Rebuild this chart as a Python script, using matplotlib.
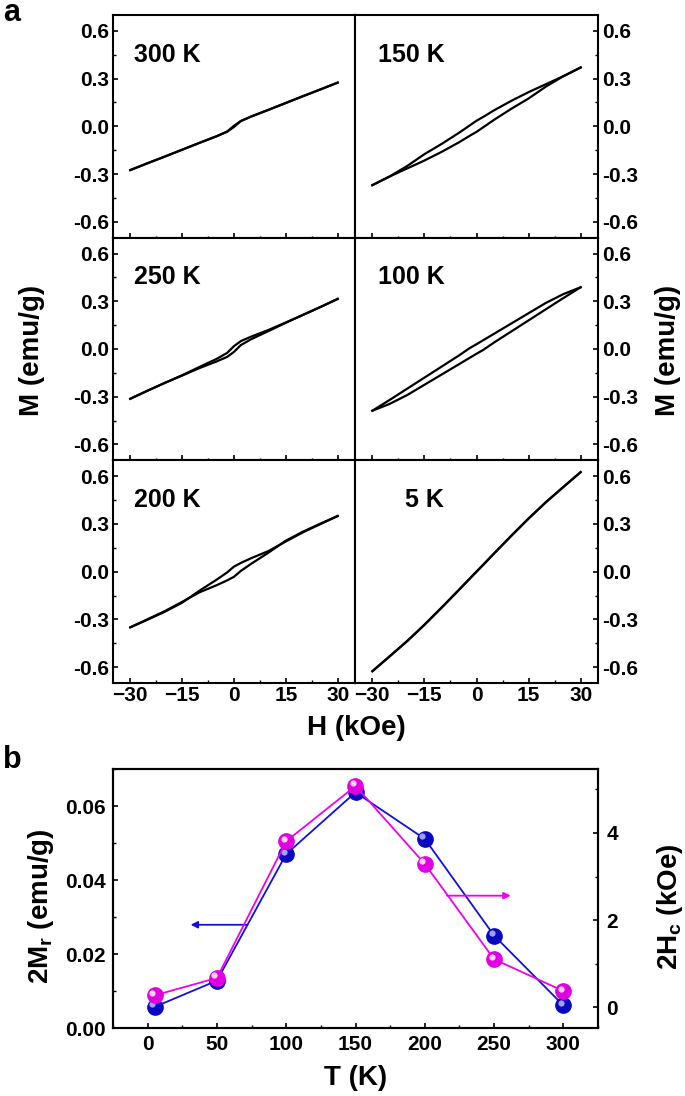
import matplotlib
matplotlib.use("Agg")
import matplotlib.pyplot as plt
from matplotlib.ticker import MultipleLocator, FormatStrFormatter
from matplotlib.transforms import offset_copy

plt.rcParams["font.family"] = ["Liberation Sans", "DejaVu Sans"]
plt.rcParams["font.weight"] = "bold"
plt.rcParams["axes.labelweight"] = "bold"
plt.rcParams["mathtext.fontset"] = "custom"
plt.rcParams["mathtext.rm"] = "Liberation Sans:bold"
plt.rcParams["mathtext.default"] = "rm"

# ---- panel a: M-H loops, field grid in kOe ----
H = [-30, -25, -20, -15, -10, -5, -2, 0, 2, 5, 10, 15, 20, 25, 30]

m300_up = [-0.275, -0.232, -0.19, -0.147, -0.104, -0.062, -0.033, 0.004, 0.034, 0.062, 0.104, 0.147, 0.19, 0.232, 0.275]
m300_dn = [-0.275, -0.232, -0.19, -0.147, -0.104, -0.062, -0.034, -0.004, 0.033, 0.062, 0.104, 0.147, 0.19, 0.232, 0.275]

m250_up = [-0.313, -0.262, -0.213, -0.165, -0.113, -0.062, -0.025, 0.018, 0.050, 0.078, 0.120, 0.167, 0.215, 0.264, 0.315]
m250_dn = [-0.313, -0.262, -0.213, -0.167, -0.120, -0.078, -0.050, -0.018, 0.025, 0.062, 0.113, 0.165, 0.215, 0.264, 0.315]

m200_up = [-0.350, -0.302, -0.252, -0.195, -0.120, -0.050, -0.005, 0.032, 0.055, 0.085, 0.130, 0.190, 0.248, 0.299, 0.350]
m200_dn = [-0.350, -0.299, -0.248, -0.190, -0.130, -0.085, -0.055, -0.032, 0.005, 0.050, 0.120, 0.195, 0.252, 0.302, 0.350]

m150_up = [-0.370, -0.315, -0.250, -0.175, -0.110, -0.040, 0.005, 0.035, 0.060, 0.100, 0.160, 0.215, 0.265, 0.315, 0.370]
m150_dn = [-0.370, -0.315, -0.265, -0.215, -0.160, -0.100, -0.060, -0.035, -0.005, 0.040, 0.110, 0.175, 0.250, 0.315, 0.370]

m100_up = [-0.388, -0.320, -0.250, -0.180, -0.110, -0.040, 0.005, 0.030, 0.056, 0.095, 0.160, 0.225, 0.290, 0.345, 0.388]
m100_dn = [-0.388, -0.345, -0.290, -0.225, -0.160, -0.095, -0.056, -0.030, -0.005, 0.040, 0.110, 0.180, 0.250, 0.320, 0.388]

m5 = [-0.626, -0.532, -0.437, -0.334, -0.225, -0.113, -0.045, 0.0, 0.045, 0.113, 0.225, 0.334, 0.437, 0.532, 0.626]

# ---- panel b ----
T = [5, 50, 100, 150, 200, 250, 300]
two_Mr = [0.0057, 0.0128, 0.047, 0.0637, 0.0511, 0.025, 0.0061]
two_Hc = [0.27, 0.67, 3.81, 5.08, 3.29, 1.10, 0.37]

W, Hpx = 685, 1096
fig = plt.figure(figsize=(6.85, 10.96), dpi=100)

left_px, mid_px, right_px = 113, 355, 598
top_px, bot_px = 15, 683
row_h = (bot_px - top_px) / 3

panels = [
    [("300 K", m300_up, m300_dn), ("150 K", m150_up, m150_dn)],
    [("250 K", m250_up, m250_dn), ("100 K", m100_up, m100_dn)],
    [("200 K", m200_up, m200_dn), ("5 K", m5, m5)],
]
label_x = [[-29, -28.3], [-29, -28.3], [-29, -20.5]]

for r in range(3):
    for c in range(2):
        x0 = left_px if c == 0 else mid_px
        x1 = mid_px if c == 0 else right_px
        y_top = top_px + r * row_h
        ax = fig.add_axes([x0 / W, 1 - (y_top + row_h) / Hpx, (x1 - x0) / W, row_h / Hpx])
        name, up, dn = panels[r][c]
        ax.plot(H, up, color="black", lw=1.6)
        ax.plot(H, dn, color="black", lw=1.6)
        ax.text(label_x[r][c], 0.45, name, fontsize=18, fontweight="bold", va="center", ha="left")
        ax.set_xlim(-35, 35)
        ax.set_ylim(-0.7, 0.7)
        ax.xaxis.set_major_locator(MultipleLocator(15))
        ax.xaxis.set_minor_locator(MultipleLocator(7.5))
        ax.yaxis.set_major_locator(MultipleLocator(0.3))
        ax.yaxis.set_minor_locator(MultipleLocator(0.15))
        ax.yaxis.set_major_formatter(FormatStrFormatter("%.1f"))
        for s in ax.spines.values():
            s.set_linewidth(1.5)
        if c == 0:
            ax.tick_params(axis="y", which="both", direction="in", left=True, right=False,
                           labelleft=True, labelright=False)
        else:
            ax.tick_params(axis="y", which="both", direction="in", left=False, right=True,
                           labelleft=False, labelright=True)
        ax.tick_params(axis="y", which="major", length=3.5, width=1.2, pad=3, labelsize=15)
        ax.tick_params(axis="y", which="minor", length=2, width=1.0)
        if r < 2:
            ax.tick_params(axis="x", which="both", direction="inout", top=False, bottom=True,
                           labelbottom=False)
            ax.tick_params(axis="x", which="major", length=7, width=1.2)
            ax.tick_params(axis="x", which="minor", length=3.5, width=1.0)
        else:
            ax.tick_params(axis="x", which="both", direction="in", top=False, bottom=True)
            ax.tick_params(axis="x", which="major", length=3.5, width=1.2, pad=2, labelsize=15)
            ax.tick_params(axis="x", which="minor", length=2, width=1.0)

fig.text(12 / W, 1 - 13 / Hpx, "a", fontsize=22, fontweight="bold", ha="center", va="center")
fig.text(356 / W, 1 - 728 / Hpx, "H (kOe)", fontsize=20, fontweight="bold", ha="center", va="center")
fig.text(32 / W, 1 - 350 / Hpx, "M (emu/g)", fontsize=20, fontweight="bold", ha="center",
         va="center", rotation=90)
fig.text(668 / W, 1 - 350 / Hpx, "M (emu/g)", fontsize=20, fontweight="bold", ha="center",
         va="center", rotation=90)

# ---- panel b ----
fig.text(12 / W, 1 - 760 / Hpx, "b", fontsize=22, fontweight="bold", ha="center", va="center")
b_top, b_bot = 769, 1028
axb = fig.add_axes([left_px / W, 1 - b_bot / Hpx, (right_px - left_px) / W, (b_bot - b_top) / Hpx])
axr = axb.twinx()

blue, blue_dark, blue_light = "#1010e0", "#0808c0", "#a0a0ff"
mag, mag_dark, mag_light = "#f000f0", "#e000e0", "#ffd0ff"

axb.plot(T, two_Mr, color=blue, lw=1.3, marker="o", ms=11, mfc=blue_dark, mec=blue_dark)
hl = offset_copy(axb.transData, fig=fig, x=-1.8, y=1.8, units="points")
axb.plot(T, two_Mr, ls="none", marker="o", ms=4.5, mfc=blue_light, mec="none", transform=hl)

axr.plot(T, two_Hc, color=mag, lw=1.3, marker="o", ms=11, mfc=mag_dark, mec=mag_dark)
hl2 = offset_copy(axr.transData, fig=fig, x=-1.8, y=1.8, units="points")
axr.plot(T, two_Hc, ls="none", marker="o", ms=4.5, mfc=mag_light, mec="none", transform=hl2)

axb.annotate("", xy=(31, 0.0279), xytext=(72, 0.0279),
             arrowprops=dict(arrowstyle="-|>", color=blue, lw=1.3, mutation_scale=10,
                             shrinkA=0, shrinkB=0))
axr.annotate("", xy=(262, 2.56), xytext=(216, 2.56),
             arrowprops=dict(arrowstyle="-|>", color=mag, lw=1.3, mutation_scale=10,
                             shrinkA=0, shrinkB=0))

axb.set_xlim(-25, 325)
axb.set_ylim(0, 0.07)
axr.set_ylim(-0.48, 5.47)
axb.xaxis.set_major_locator(MultipleLocator(50))
axb.xaxis.set_minor_locator(MultipleLocator(25))
axb.yaxis.set_major_locator(MultipleLocator(0.02))
axb.yaxis.set_minor_locator(MultipleLocator(0.01))
axb.yaxis.set_major_formatter(FormatStrFormatter("%.2f"))
axr.yaxis.set_major_locator(MultipleLocator(2))
axr.yaxis.set_minor_locator(MultipleLocator(1))

for a in (axb, axr):
    for s in a.spines.values():
        s.set_linewidth(1.5)
axb.tick_params(axis="both", which="both", direction="in", top=False, right=False)
axb.tick_params(axis="both", which="major", length=3.5, width=1.2, labelsize=15, pad=5)
axb.tick_params(axis="both", which="minor", length=2, width=1.0)
axr.tick_params(axis="y", which="both", direction="in")
axr.tick_params(axis="y", which="major", length=3.5, width=1.2, labelsize=15, pad=6)
axr.tick_params(axis="y", which="minor", length=2, width=1.0)

axb.set_xlabel("T (K)", fontsize=20, fontweight="bold")
axb.set_ylabel("2M$_\\mathrm{r}$ (emu/g)", fontsize=20, fontweight="bold")
axr.set_ylabel("2H$_\\mathrm{c}$ (kOe)", fontsize=20, fontweight="bold")
axb.xaxis.set_label_coords(0.5, -0.143)
axb.yaxis.set_label_coords(-0.117, 0.47)
axr.yaxis.set_label_coords(1.117, 0.47)

fig.savefig("out.png", dpi=100)
plt.close(fig)
